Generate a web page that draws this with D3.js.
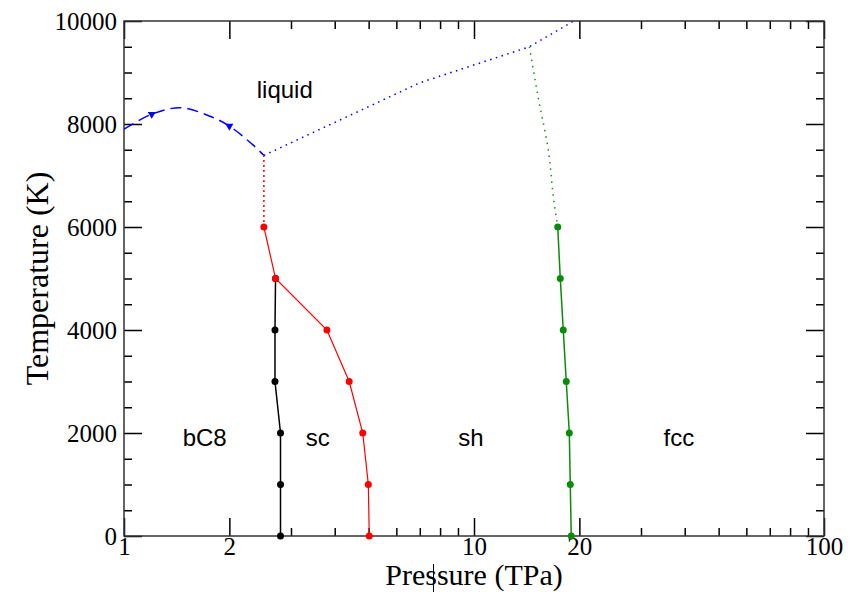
<!DOCTYPE html>
<html>
<head>
<meta charset="utf-8">
<script src="https://cdn.jsdelivr.net/npm/d3@7"></script>
<style>
  body { margin: 0; background: #fff; }
  .tick text { font-family: "Liberation Serif", serif; font-size: 25px; fill: #000; }
  .phase { font-family: "Liberation Sans", Arial, sans-serif; font-size: 24px; fill: #000; }
</style>
</head>
<body>
<div id="chart"></div>
<script>
// tick values
const pressureTicks = [1, 2, 10, 20, 100];
const pressureMinor = [3, 4, 5, 6, 7, 8, 9, 30, 40, 50, 60, 70, 80, 90];
const tempTicks = [0, 2000, 4000, 6000, 8000, 10000];
const tempMinor = [500, 1000, 1500, 2500, 3000, 3500, 4500, 5000, 5500, 6500, 7000, 7500, 8500, 9000, 9500];

// phase boundaries, [pressure (TPa), temperature (K)]
const bc8Sc = [[2.71, 5000], [2.70, 4000], [2.70, 3000], [2.80, 2000], [2.80, 1000], [2.80, 0]];
const scSh = [[2.51, 6000], [2.71, 5000], [3.80, 4000], [4.40, 3000], [4.81, 2000], [4.99, 1000], [5.02, 0]];
const scLiquid = [[2.51, 6000], [2.51, 7390]];
const shFcc = [[17.35, 6000], [17.64, 5000], [17.99, 4000], [18.35, 3000], [18.72, 2000], [18.84, 1000], [18.96, 0]];
const shFccExtrap = [[14.4, 9500], [15.3, 8470], [16.3, 7500], [16.9, 6520], [17.35, 6000]];
const meltBc8 = [[1.0, 7900], [1.2, 8190], [1.45, 8315], [1.76, 8150], [2.0, 7960], [2.34, 7590], [2.51, 7390]];
const meltArrows = [[1.2, 8190], [2.0, 7960]];
const meltHigh = [[2.51, 7390], [7.0, 8800], [14.4, 9500], [19.3, 10000], [20, 10080]];

const phaseNames = ["liquid", "bC8", "sc", "sh", "fcc"];
const phaseP = [2.88, 1.70, 3.58, 9.8, 38.5];
const phaseT = [8500, 1750, 1750, 1750, 1750];

const W = 856, H = 592;
const margin = { top: 21, right: 32, bottom: 56, left: 124 };
const width = W - margin.left - margin.right;
const height = H - margin.top - margin.bottom;

const svg = d3.select("#chart").append("svg")
    .attr("width", W)
    .attr("height", H);

svg.append("defs").append("clipPath").attr("id", "clip")
  .append("rect").attr("width", width).attr("height", height);

const g = svg.append("g").attr("transform", `translate(${margin.left},${margin.top})`);

const x = d3.scaleLog().domain([1, 100]).range([0, width]);
const y = d3.scaleLinear().domain([0, 10000]).range([height, 0]);

// axes, ticks drawn inward
function addAxis(axis, tr) {
  const a = g.append("g").attr("transform", tr).call(axis);
  a.select(".domain").remove();
  a.selectAll(".tick line").attr("stroke", "#000").attr("stroke-width", 1.5);
  return a;
}
const fmt = d => d;
addAxis(d3.axisBottom(x).tickValues(pressureTicks).tickFormat(fmt).tickSize(-18).tickPadding(1), `translate(0,${height})`);
addAxis(d3.axisBottom(x).tickValues(pressureMinor).tickFormat("").tickSize(-8), `translate(0,${height})`);
addAxis(d3.axisTop(x).tickValues(pressureTicks).tickFormat("").tickSize(-18), "translate(0,0)");
addAxis(d3.axisTop(x).tickValues(pressureMinor).tickFormat("").tickSize(-8), "translate(0,0)");
addAxis(d3.axisLeft(y).tickValues(tempTicks).tickFormat(fmt).tickSize(-18).tickPadding(7), "translate(0,0)");
addAxis(d3.axisLeft(y).tickValues(tempMinor).tickFormat("").tickSize(-8), "translate(0,0)");
addAxis(d3.axisRight(y).tickValues(tempTicks).tickFormat("").tickSize(-18), `translate(${width},0)`);
addAxis(d3.axisRight(y).tickValues(tempMinor).tickFormat("").tickSize(-8), `translate(${width},0)`);

g.append("rect")
    .attr("width", width)
    .attr("height", height)
    .attr("fill", "none")
    .attr("stroke", "#333")
    .attr("stroke-width", 1.5);

const line = d3.line().x(d => x(d[0])).y(d => y(d[1]));
const smooth = d3.line().x(d => x(d[0])).y(d => y(d[1])).curve(d3.curveCatmullRom);
const curve = d3.line().x(d => x(d[0])).y(d => y(d[1])).curve(d3.curveMonotoneY);
const plot = g.append("g").attr("clip-path", "url(#clip)");

plot.append("path").datum(meltHigh).attr("d", line)
    .attr("fill", "none").attr("stroke", "#0000ff").attr("stroke-width", 1.5)
    .attr("stroke-dasharray", "1.5,4.5");
plot.append("path").datum(meltBc8).attr("d", smooth)
    .attr("fill", "none").attr("stroke", "#0000ff").attr("stroke-width", 1.5)
    .attr("stroke-dasharray", "11,6");
plot.selectAll(".arrow").data(meltArrows).enter().append("path")
    .attr("class", "arrow")
    .attr("d", d3.symbol(d3.symbolTriangle, 28))
    .attr("transform", d => `translate(${x(d[0])},${y(d[1])}) rotate(180)`)
    .attr("fill", "#0000ff");

plot.append("path").datum(scLiquid).attr("d", line)
    .attr("fill", "none").attr("stroke", "#ff0000").attr("stroke-width", 1.5)
    .attr("stroke-dasharray", "2,3");
plot.append("path").datum(shFccExtrap).attr("d", curve)
    .attr("fill", "none").attr("stroke", "#1a8c1a").attr("stroke-width", 1.5)
    .attr("stroke-dasharray", "1.5,5");

function series(data, color, w) {
  plot.append("path").datum(data).attr("d", line)
      .attr("fill", "none").attr("stroke", color).attr("stroke-width", w);
  g.append("g").selectAll("circle").data(data).enter().append("circle")
      .attr("cx", d => x(d[0]))
      .attr("cy", d => y(d[1]))
      .attr("r", 3.5)
      .attr("fill", color);
}
series(bc8Sc, "#000", 1.5);
series(scSh, "#ff0000", 1.2);
series(shFcc, "#0a8c0a", 1.5);

g.selectAll(".phase").data(phaseNames).enter().append("text")
    .attr("class", "phase")
    .attr("x", (d, i) => x(phaseP[i]))
    .attr("y", (d, i) => y(phaseT[i]))
    .attr("text-anchor", "middle")
    .text(d => d);

svg.append("text")
    .attr("x", margin.left + width / 2)
    .attr("y", 585)
    .attr("text-anchor", "middle")
    .style("font-family", "Liberation Serif, serif")
    .style("font-size", "30px")
    .text("Pressure (TPa)");

svg.append("text")
    .attr("transform", `translate(48,${margin.top + height / 2}) rotate(-90)`)
    .attr("text-anchor", "middle")
    .style("font-family", "Liberation Serif, serif")
    .style("font-size", "32px")
    .text("Temperature (K)");

// stray caret mark seen in the source image
svg.append("line")
    .attr("x1", 433.5).attr("x2", 433.5)
    .attr("y1", 564).attr("y2", 592)
    .attr("stroke", "#000").attr("stroke-width", 1);
</script>
</body>
</html>
